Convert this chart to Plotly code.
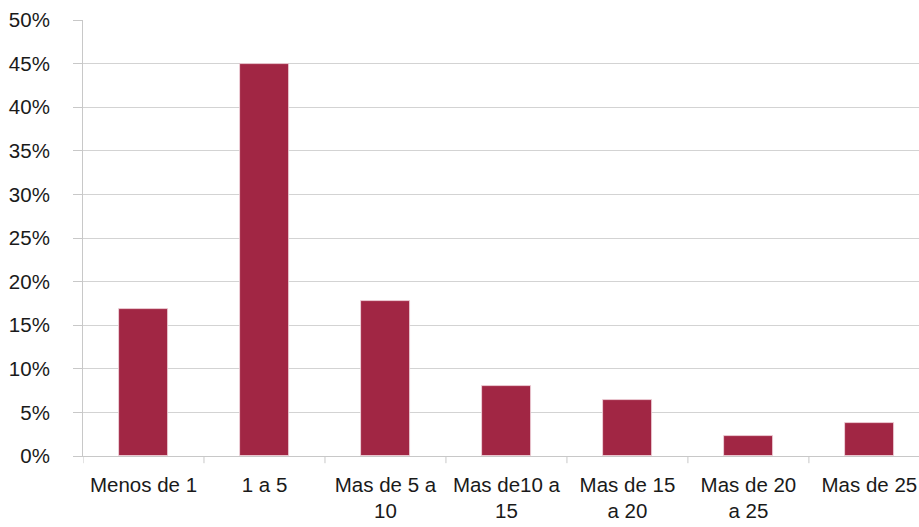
import plotly.graph_objects as go

# Distribution by range (percent)
categories = ["Menos de 1", "1 a 5", "Mas de 5 a<br>10", "Mas de10 a<br>15",
              "Mas de 15<br>a 20", "Mas de 20<br>a 25", "Mas de 25"]
values = [16.9, 44.9, 17.8, 8.0, 6.4, 2.3, 3.8]
y_ticks = [0, 5, 10, 15, 20, 25, 30, 35, 40, 45, 50]
y_tick_labels = [f"{v}%" for v in y_ticks]

bar_color = "#A12644"
grid_color = "#D3D3D3"
font_family = "Liberation Sans, Arial, sans-serif"

fig = go.Figure(
    go.Bar(
        x=list(range(len(categories))),
        y=values,
        width=0.405,
        marker=dict(color=bar_color, line=dict(color="#F3D9DF", width=0.8)),
        hoverinfo="skip",
    )
)

fig.update_layout(
    width=919,
    height=527,
    margin=dict(l=83, r=0, t=20, b=71),
    paper_bgcolor="white",
    plot_bgcolor="white",
    showlegend=False,
    font=dict(family=font_family, size=20.5, color="#1A1A1A"),
    bargap=0,
)

fig.update_xaxes(
    tickmode="array",
    tickvals=list(range(len(categories))),
    ticktext=categories,
    range=[-0.5, 6.41],
    showgrid=False,
    showline=True,
    linecolor="#C8C8C8",
    linewidth=1,
    ticks="",
    zeroline=False,
    tickfont=dict(size=20.5),
    ticklabelstandoff=10,
)

# boundary tick marks between categories
for b in [-0.5, 0.5, 1.5, 2.5, 3.5, 4.5, 5.5]:
    fig.add_shape(type="line", xref="x", yref="paper", x0=b, x1=b, y0=0, y1=-0.0165,
                  line=dict(color="#C8C8C8", width=1))

fig.update_yaxes(
    range=[0, 50],
    tickvals=y_ticks,
    ticktext=y_tick_labels,
    showgrid=True,
    gridcolor=grid_color,
    gridwidth=1,
    showline=True,
    linecolor="#C8C8C8",
    linewidth=1,
    ticks="outside",
    ticklen=9,
    tickcolor="#C8C8C8",
    zeroline=False,
    tickfont=dict(size=20.5),
    ticklabelstandoff=19,
)

fig.write_html("out.html")
